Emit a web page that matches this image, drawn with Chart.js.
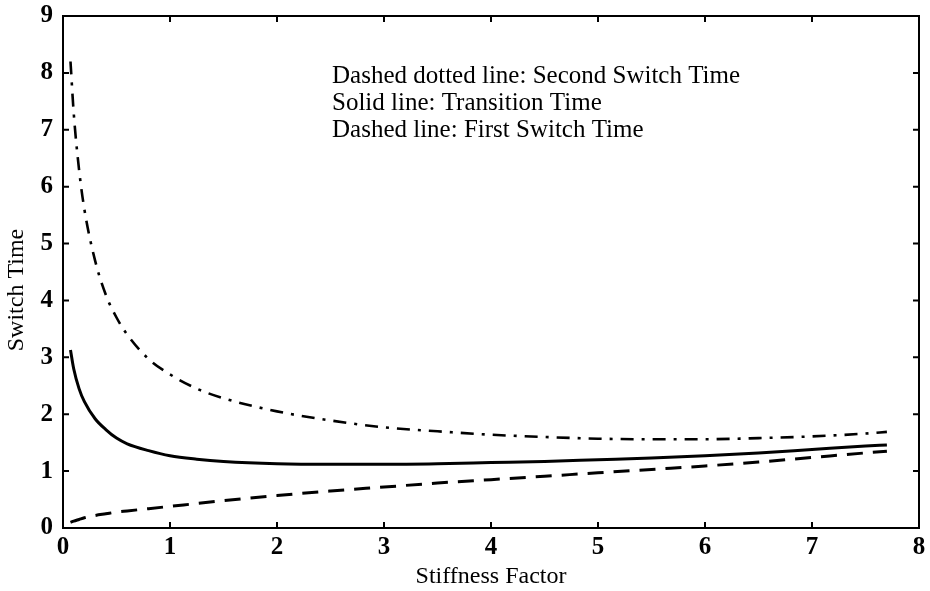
<!DOCTYPE html>
<html>
<head>
<meta charset="utf-8">
<script src="https://cdn.jsdelivr.net/npm/chart.js@4"></script>
<style>
  html, body { margin: 0; padding: 0; background: #fff; }
  #wrap { width: 930px; height: 591px; position: relative; }
</style>
</head>
<body>
<div id="wrap"><canvas id="c"></canvas></div>
<script>
// ── Data ────────────────────────────────────────────────────────────────────
const stiffness = [0.07, 0.1, 0.15, 0.2, 0.3, 0.4, 0.5, 0.6, 0.8, 1.0, 1.25, 1.5, 2.0, 2.5, 3.0, 3.5, 4.0, 4.5, 5.0, 5.5, 6.0, 6.5, 7.0, 7.5, 7.7];
const secondSwitch = [8.2, 7.3, 6.3, 5.6, 4.7, 4.1, 3.7, 3.4, 2.97, 2.7, 2.45, 2.28, 2.05, 1.89, 1.77, 1.7, 1.64, 1.6, 1.57, 1.56, 1.56, 1.58, 1.61, 1.66, 1.69];
const transition   = [3.13, 2.8, 2.45, 2.22, 1.92, 1.73, 1.58, 1.48, 1.36, 1.27, 1.21, 1.17, 1.13, 1.12, 1.12, 1.13, 1.15, 1.17, 1.2, 1.23, 1.27, 1.32, 1.38, 1.44, 1.46];
const firstSwitch  = [0.1, 0.12, 0.15, 0.18, 0.22, 0.25, 0.28, 0.3, 0.34, 0.38, 0.43, 0.48, 0.57, 0.65, 0.72, 0.79, 0.85, 0.91, 0.97, 1.03, 1.09, 1.16, 1.24, 1.32, 1.35];

const xTicks = [0, 1, 2, 3, 4, 5, 6, 7, 8];
const yTicks = [0, 1, 2, 3, 4, 5, 6, 7, 8, 9];

const notes = [
  'Dashed dotted line: Second Switch Time',
  'Solid line: Transition Time',
  'Dashed line: First Switch Time'
];

const SERIF = "'Liberation Serif', 'DejaVu Serif', serif";
const pts = ys => stiffness.map((x, i) => ({ x: x, y: ys[i] }));

// ── Frame, inward ticks, y title and the text note ──────────────────────────
const frame = {
  id: 'frame',
  afterDraw(chart) {
    const { ctx, chartArea: a, scales } = chart;
    ctx.save();
    ctx.strokeStyle = '#000';
    ctx.lineWidth = 2;
    ctx.strokeRect(a.left, a.top, a.right - a.left, a.bottom - a.top);
    const len = 6;
    xTicks.forEach(v => {
      const px = scales.x.getPixelForValue(v);
      ctx.beginPath();
      ctx.moveTo(px, a.bottom); ctx.lineTo(px, a.bottom - len);
      ctx.moveTo(px, a.top);    ctx.lineTo(px, a.top + len);
      ctx.stroke();
    });
    yTicks.forEach(v => {
      const py = scales.y.getPixelForValue(v);
      ctx.beginPath();
      ctx.moveTo(a.left, py);  ctx.lineTo(a.left + len, py);
      ctx.moveTo(a.right, py); ctx.lineTo(a.right - len, py);
      ctx.stroke();
    });
    ctx.fillStyle = '#000';
    // y axis title, sits a little below the middle in the original
    ctx.font = '24px ' + SERIF;
    ctx.textAlign = 'center';
    ctx.textBaseline = 'middle';
    ctx.translate(17, 290);
    ctx.rotate(-Math.PI / 2);
    ctx.fillText('Switch Time', 0, 0);
    ctx.setTransform(1, 0, 0, 1, 0, 0);
    ctx.font = '25px ' + SERIF;
    ctx.textAlign = 'left';
    ctx.textBaseline = 'alphabetic';
    notes.forEach((t, i) => ctx.fillText(t, 332, 83 + i * 27));
    ctx.restore();
  }
};

new Chart(document.getElementById('c'), {
  type: 'line',
  data: {
    datasets: [
      { label: 'Second Switch Time', data: pts(secondSwitch), borderColor: '#000', borderWidth: 2.6, borderDash: [13, 8, 3, 8] },
      { label: 'Transition Time',    data: pts(transition),   borderColor: '#000', borderWidth: 3 },
      { label: 'First Switch Time',  data: pts(firstSwitch),  borderColor: '#000', borderWidth: 3, borderDash: [16, 10] }
    ]
  },
  options: {
    responsive: true,
    maintainAspectRatio: false,
    animation: false,
    layout: { padding: { top: 16, right: 11, left: 0, bottom: 0 } },
    elements: { point: { radius: 0 }, line: { cubicInterpolationMode: 'monotone', fill: false } },
    plugins: { legend: { display: false }, tooltip: { enabled: false } },
    scales: {
      x: {
        type: 'linear', min: 0, max: 8,
        afterFit: s => { s.height = 63; s.paddingLeft = 0; s.paddingRight = 0; },
        afterBuildTicks: s => { s.ticks = xTicks.map(v => ({ value: v })); },
        grid: { display: false, drawTicks: false },
        border: { display: false },
        ticks: { color: '#000', padding: 5, font: { family: SERIF, size: 25, weight: 'bold' } },
        title: { display: true, text: 'Stiffness Factor', color: '#000', padding: { top: 4, bottom: 0 }, font: { family: SERIF, size: 24 } }
      },
      y: {
        type: 'linear', min: 0, max: 9,
        afterFit: s => { s.width = 63; s.paddingTop = 0; s.paddingBottom = 0; },
        afterBuildTicks: s => { s.ticks = yTicks.map(v => ({ value: v })); },
        grid: { display: false, drawTicks: false },
        border: { display: false },
        ticks: { color: '#000', padding: 10, font: { family: SERIF, size: 25, weight: 'bold' } },
        title: { display: false }
      }
    }
  },
  plugins: [frame]
});
</script>
</body>
</html>
